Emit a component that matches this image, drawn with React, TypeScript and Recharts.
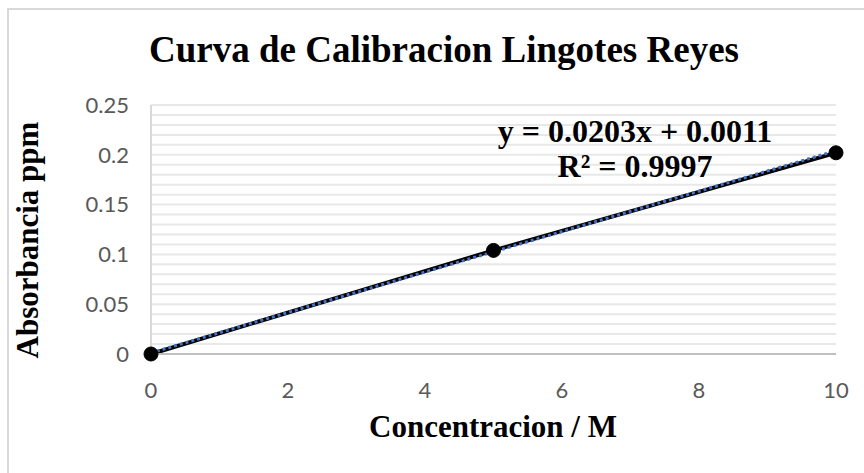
import { ComposedChart, Line, ReferenceLine, XAxis, YAxis } from 'recharts'

// puntos medidos (concentracion, absorbancia)
const concentraciones = [0, 5, 10]
const absorbancias = [0, 0.104, 0.202]

// linea de tendencia y = 0.0203x + 0.0011 (extremos)
const trendX = [0, 10]
const trendY = [0.0011, 0.2041]

const xTicks = [0, 2, 4, 6, 8, 10]
const yTicks = [0, 0.05, 0.1, 0.15, 0.2, 0.25]
const minorTicks = [
  0.01, 0.02, 0.03, 0.04, 0.05, 0.06, 0.07, 0.08, 0.09, 0.1, 0.11, 0.12, 0.13,
  0.14, 0.15, 0.16, 0.17, 0.18, 0.19, 0.2, 0.21, 0.22, 0.23, 0.24, 0.25,
]

const puntos = concentraciones.map((x, i) => ({ x, y: absorbancias[i] }))
const tendencia = trendX.map((x, i) => ({ x, y: trendY[i] }))

const serif = '"Liberation Serif", "Times New Roman", serif'
const tickStyle = { fill: '#595959', fontSize: 22, fontFamily: 'Lato, "Open Sans", sans-serif' }

export default function App() {
  return (
    <div style={{ position: 'absolute', left: 0, top: 0, width: 864, height: 473, background: '#fff', overflow: 'hidden' }}>
      {/* marco del grafico (recortado a la derecha y abajo) */}
      <div
        style={{
          position: 'absolute',
          left: 7,
          top: 8,
          width: 900,
          height: 500,
          borderTop: '2px solid #d9d9d9',
          borderLeft: '2px solid #d9d9d9',
        }}
      />
      <ComposedChart
        width={864}
        height={473}
        margin={{ top: 105, right: 28, bottom: 89, left: 0 }}
        style={{ position: 'absolute', left: 0, top: 0 }}
      >
        <XAxis
          dataKey="x"
          type="number"
          domain={[0, 10]}
          ticks={xTicks}
          height={30}
          tickLine={false}
          tickSize={0}
          tickMargin={28}
          axisLine={{ stroke: '#bfbfbf', strokeWidth: 2 }}
          tick={tickStyle}
        />
        <YAxis
          type="number"
          domain={[0, 0.25]}
          ticks={yTicks}
          width={151}
          tickLine={false}
          tickSize={0}
          tickMargin={22}
          axisLine={{ stroke: '#d9d9d9', strokeWidth: 2 }}
          tick={tickStyle}
        />
        {minorTicks.map((v) => (
          <ReferenceLine key={v} y={v} stroke="#e8e8e8" strokeWidth={2} />
        ))}
        <Line
          data={puntos}
          dataKey="y"
          stroke="#000"
          strokeWidth={4}
          dot={{ r: 7, fill: '#000', stroke: '#000', strokeWidth: 1 }}
          isAnimationActive={false}
        />
        <Line
          data={tendencia}
          dataKey="y"
          stroke="#4472c4"
          strokeWidth={3}
          strokeDasharray="3 3"
          dot={false}
          isAnimationActive={false}
        />
      </ComposedChart>
      <div
        style={{
          position: 'absolute',
          left: 444,
          top: 31,
          transform: 'translateX(-50%)',
          whiteSpace: 'nowrap',
          fontFamily: serif,
          fontWeight: 'bold',
          fontSize: 37,
          color: '#000',
          lineHeight: '37px',
        }}
      >
        Curva de Calibracion Lingotes Reyes
      </div>
      <div
        style={{
          position: 'absolute',
          left: 27,
          top: 240,
          transform: 'translate(-50%, -50%) rotate(-90deg)',
          whiteSpace: 'nowrap',
          fontFamily: serif,
          fontWeight: 'bold',
          fontSize: 31,
          color: '#000',
          lineHeight: '31px',
        }}
      >
        Absorbancia ppm
      </div>
      <div
        style={{
          position: 'absolute',
          left: 493,
          top: 411,
          transform: 'translateX(-50%)',
          whiteSpace: 'nowrap',
          fontFamily: serif,
          fontWeight: 'bold',
          fontSize: 31,
          color: '#000',
          lineHeight: '31px',
        }}
      >
        Concentracion / M
      </div>
      <div
        style={{
          position: 'absolute',
          left: 635,
          top: 114,
          transform: 'translateX(-50%)',
          whiteSpace: 'nowrap',
          textAlign: 'center',
          fontFamily: serif,
          fontWeight: 'bold',
          fontSize: 32,
          color: '#000',
          lineHeight: '35px',
        }}
      >
        <div>y = 0.0203x + 0.0011</div>
        <div>R² = 0.9997</div>
      </div>
    </div>
  )
}
